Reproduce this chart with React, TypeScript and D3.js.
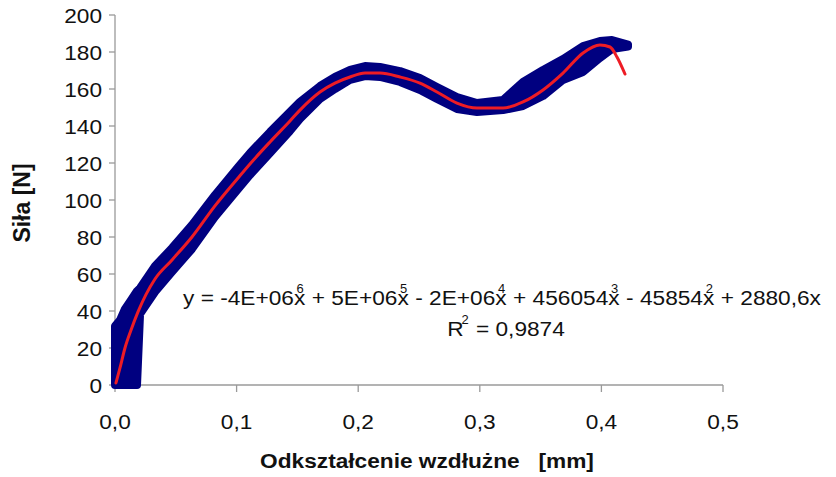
import React from "react";
import * as d3 from "d3";

const W = 836;
const H = 477;

const yTicks = [0, 20, 40, 60, 80, 100, 120, 140, 160, 180, 200];
const xTicks = [0, 0.1, 0.2, 0.3, 0.4, 0.5];

// measured scatter cloud: x, lower and upper edge of the dense cloud of points
const bandX = [0, 0.0041, 0.0082, 0.0132, 0.0181, 0.0206, 0.0329, 0.0469, 0.0633, 0.0822, 0.1012, 0.1110, 0.1275, 0.1439, 0.1521, 0.1686, 0.1809, 0.1933, 0.2056, 0.2179, 0.2344, 0.2508, 0.2648, 0.2812, 0.2977, 0.3191, 0.3355, 0.3520, 0.3684, 0.3849, 0.3988, 0.4087, 0.4219];
const bandHigh = [31.9, 35.1, 41.1, 45.9, 50.8, 52.4, 64.3, 74.1, 86.5, 102.7, 117.8, 125.4, 136.8, 147.6, 153.0, 161.6, 166.5, 170.3, 172.4, 171.9, 169.7, 165.9, 161.1, 155.7, 152.4, 154.1, 163.8, 170.3, 176.2, 183.2, 185.9, 186.5, 184.0];
const bandLow = [0, 0, 0, 0, 0, 38.4, 50.3, 61.1, 73.5, 90.8, 105.9, 113.5, 125.4, 137.3, 143.8, 154.6, 160.0, 164.9, 167.0, 166.5, 163.8, 159.5, 154.6, 149.2, 147.6, 148.6, 150.8, 156.2, 164.9, 169.2, 176.8, 181.6, 183.0];

// polynomial trendline
const trendX = [0.0008, 0.0041, 0.0082, 0.0132, 0.0189, 0.0329, 0.0469, 0.0633, 0.0822, 0.1012, 0.1110, 0.1275, 0.1439, 0.1521, 0.1686, 0.1809, 0.1933, 0.2056, 0.2179, 0.2344, 0.2508, 0.2648, 0.2812, 0.2977, 0.3191, 0.3355, 0.3520, 0.3684, 0.3849, 0.3988, 0.4071, 0.4128, 0.4194];
const trendY = [1.1, 9.2, 20.0, 29.7, 39.5, 57.3, 67.6, 80.0, 96.8, 111.9, 119.5, 131.4, 142.7, 148.6, 158.4, 163.2, 166.5, 168.6, 168.6, 166.5, 163.2, 158.4, 152.4, 149.7, 149.7, 153.0, 159.5, 168.6, 179.5, 183.8, 182.7, 177.3, 168.1];

const eqParts = ["y = -4E+06x", " + 5E+06x", " - 2E+06x", " + 456054x", " - 45854x", " + 2880,6x"];
const eqPowers = ["6", "5", "4", "3", "2"];
const rSquared = "0,9874";

const FONT = "'Liberation Sans', Arial, Helvetica, sans-serif";
const SX = 1.08;

function T(props: any) {
  const { x, y, children, anchor = "start", size = 21, weight = "normal", rotate = 0, ...rest } = props;
  const tr = rotate
    ? `translate(${x},${y}) rotate(${rotate}) scale(1,1)`
    : `translate(${x},${y}) scale(${SX},1)`;
  return (
    <text
      transform={tr}
      textAnchor={anchor}
      fontFamily={FONT}
      fontSize={size}
      fontWeight={weight}
      fill="#111"
      style={{ whiteSpace: "pre" }}
      {...rest}
    >
      {children}
    </text>
  );
}

export default function App() {
  const x = d3.scaleLinear().domain([0, 0.5]).range([115, 723]);
  const y = d3.scaleLinear().domain([0, 200]).range([385, 15]);

  const band = bandX.map((bx, i) => ({ x: bx, lo: bandLow[i], hi: bandHigh[i] }));
  const areaGen = d3
    .area<any>()
    .x((d) => x(d.x))
    .y0((d) => y(d.lo))
    .y1((d) => y(d.hi));

  const trend = trendX.map((tx, i) => [tx, trendY[i]] as [number, number]);
  const lineGen = d3
    .line<[number, number]>()
    .x((d) => x(d[0]))
    .y((d) => y(d[1]))
    .curve(d3.curveMonotoneX);

  const axisColor = "#9a9a9a";
  const fmtX = (v: number) => v.toFixed(1).replace(".", ",");
  const supSize = 12;

  const eqNodes: any[] = [<tspan key="p0">{eqParts[0]}</tspan>];
  eqPowers.forEach((p, i) => {
    eqNodes.push(
      <tspan key={"s" + i} dx={-8} dy={-12} fontSize={supSize}>{p}</tspan>
    );
    eqNodes.push(
      <tspan key={"p" + (i + 1)} dx={1.5} dy={12}>{eqParts[i + 1]}</tspan>
    );
  });

  return (
    <svg
      width={W}
      height={H}
      viewBox={`0 0 ${W} ${H}`}
      style={{ position: "absolute", left: 0, top: 0, background: "#fff" }}
    >
      <rect x={0} y={0} width={W} height={H} fill="#fff" />

      {/* axes */}
      <line x1={x(0)} x2={x(0)} y1={y(200)} y2={y(0)} stroke={axisColor} strokeWidth={1.3} />
      {yTicks.map((t) => (
        <line key={"yt" + t} x1={x(0) - 6} x2={x(0)} y1={y(t)} y2={y(t)} stroke={axisColor} strokeWidth={1.3} />
      ))}
      <line x1={x(0)} x2={x(0.5)} y1={y(0)} y2={y(0)} stroke={axisColor} strokeWidth={1.3} />
      {xTicks.map((t) => (
        <line key={"xt" + t} x1={x(t)} x2={x(t)} y1={y(0)} y2={y(0) + 7} stroke={axisColor} strokeWidth={1.3} />
      ))}

      {/* scatter cloud */}
      <path
        d={areaGen(band) || ""}
        fill="#000080"
        stroke="#000080"
        strokeWidth={8}
        strokeLinejoin="round"
      />

      {/* trendline */}
      <path d={lineGen(trend) || ""} fill="none" stroke="#ee1c25" strokeWidth={3} strokeLinecap="round" />

      {/* tick labels */}
      {yTicks.map((t) => (
        <T key={"yl" + t} x={102} y={y(t) + 7.5} anchor="end">
          {String(t)}
        </T>
      ))}
      {xTicks.map((t) => (
        <T key={"xl" + t} x={x(t)} y={429} anchor="middle">
          {fmtX(t)}
        </T>
      ))}

      {/* axis titles */}
      <T x={427} y={468} anchor="middle" weight="bold">
        {"Odkształcenie wzdłużne   [mm]"}
      </T>
      <T x={30} y={203} anchor="middle" weight="bold" rotate={-90} size={23}>
        {"Siła [N]"}
      </T>

      {/* equation */}
      <T x={183} y={305}>{eqNodes}</T>
      <T x={506} y={336} anchor="middle">
        {"R"}
        <tspan dx={-2} dy={-12} fontSize={supSize}>2</tspan>
        <tspan dx={1} dy={12}>{" = " + rSquared}</tspan>
      </T>
    </svg>
  );
}
